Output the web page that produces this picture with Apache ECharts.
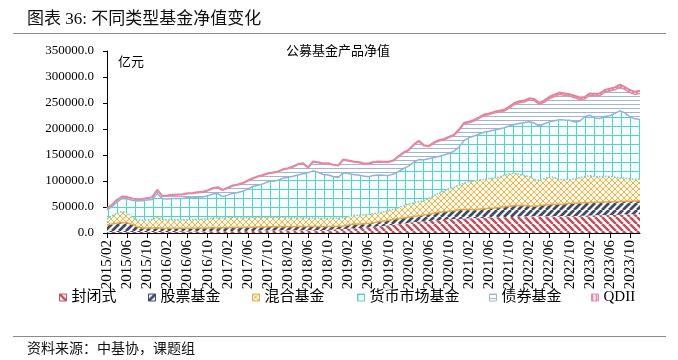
<!DOCTYPE html>
<html><head><meta charset="utf-8">
<script src="https://cdn.jsdelivr.net/npm/echarts@6/dist/echarts.min.js"></script>
<style>html,body{margin:0;padding:0;background:#fff}#c{width:678px;height:360px}</style>
</head><body><div id="c"></div>
<script>
const categories = [
 '2015/02','2015/03','2015/04','2015/05','2015/06','2015/07','2015/08','2015/09','2015/10','2015/11','2015/12',
 '2016/01','2016/02','2016/03','2016/04','2016/05','2016/06','2016/07','2016/08','2016/09','2016/10','2016/11','2016/12',
 '2017/01','2017/02','2017/03','2017/04','2017/05','2017/06','2017/07','2017/08','2017/09','2017/10','2017/11','2017/12',
 '2018/01','2018/02','2018/03','2018/04','2018/05','2018/06','2018/07','2018/08','2018/09','2018/10','2018/11','2018/12',
 '2019/01','2019/02','2019/03','2019/04','2019/05','2019/06','2019/07','2019/08','2019/09','2019/10','2019/11','2019/12',
 '2020/01','2020/02','2020/03','2020/04','2020/05','2020/06','2020/07','2020/08','2020/09','2020/10','2020/11','2020/12',
 '2021/01','2021/02','2021/03','2021/04','2021/05','2021/06','2021/07','2021/08','2021/09','2021/10','2021/11','2021/12',
 '2022/01','2022/02','2022/03','2022/04','2022/05','2022/06','2022/07','2022/08','2022/09','2022/10','2022/11','2022/12',
 '2023/01','2023/02','2023/03','2023/04','2023/05','2023/06','2023/07','2023/08','2023/09','2023/10','2023/11','2023/12'
];
const closedFund = [1800,1900,2000,2100,2100,2000,1900,1900,1800,1800,1800,1800,1900,
 2000,2100,2300,2400,2600,2800,3000,3100,3200,3300,3400,3500,3600,
 3700,3800,3900,4000,4100,4200,4300,4400,4500,4600,4700,4800,4900,
 5000,5200,5400,5600,5800,6000,6400,7000,7500,8000,8600,9300,10000,
 10800,11600,12400,13300,14300,15400,16500,18000,19500,20500,21500,22300,23000,
 23800,24500,25200,25800,26300,26800,27300,27700,28200,28600,29000,29400,29800,
 30200,30500,30800,31000,31200,31400,31500,31600,31700,31800,31900,32000,32100,
 32200,32400,32600,32800,33000,33300,33600,33900,34200,34500,34800,35100,35400,35700,36000,36300];
const stockFund = [13700,15600,17000,17900,17400,14500,10100,7600,7700,7700,8200,7200,7100,
 7000,6900,6700,6600,6400,6700,6500,6400,6800,6700,6600,7000,6900,
 6800,6700,7100,7000,7400,7300,7700,7600,7500,7900,7300,7200,7600,
 7500,7300,7100,6900,6700,6500,6100,6000,6000,7500,8900,7700,8000,
 7700,7900,9100,9700,10200,11100,11500,11000,11000,11000,11500,12200,13000,
 14200,15500,15800,16200,16700,17700,17700,17800,16300,16900,17500,18100,18200,
 18800,20000,20700,21500,21800,21600,20500,19900,21300,22200,22600,23500,23400,
 23800,24600,24400,24700,25000,25200,25400,25100,25300,25500,25200,25400,25600,25300,25500,25200];
const mixedFund = [11000,15500,19000,21000,19000,14500,13500,15000,15500,16500,20000,17500,16500,
 16500,16500,16500,17000,17000,17000,17000,17500,19000,19500,19000,19000,20500,
 19500,19000,18500,19000,19000,19000,19000,18500,18500,18000,17500,17500,17000,
 17000,16500,16500,16000,16000,15500,16000,15500,15500,16000,16000,17000,17000,
 17000,18000,17500,17500,18500,19500,21000,23500,25500,26500,27500,27500,30000,
 34000,37000,39500,43000,45000,47500,51000,53500,56000,56500,56500,57500,58000,
 58500,60500,62000,62500,60500,57500,56500,51500,48500,50500,53500,51000,47500,
 47000,45500,47000,49000,50500,51500,49500,49000,49500,48500,47500,45500,44500,43500,42000,41500];
const moneyFund = [18000,17500,22000,25300,27200,31950,36000,37500,38350,38200,46200,39150,40100,
 41000,41050,41050,42100,41500,42500,42850,44450,46100,46400,40900,43400,45350,
 47850,50900,54900,59400,61450,63950,67500,69000,71000,75000,77500,79500,82050,
 84550,87050,90550,88050,84050,83600,80100,78100,87050,83000,79000,77450,74450,
 72900,72900,72350,70350,67800,67300,69250,71750,72700,78200,80700,78650,76600,
 73050,70000,69450,67900,69300,73200,81600,84500,85900,88300,90700,90600,92000,
 92500,91400,92300,93700,97100,102000,105500,108400,103800,105700,106100,109500,115000,
 114400,114500,109500,108500,115000,116400,112800,112200,115000,117000,122500,129000,125500,118500,116000,115500];
const bondFund = [2700,3000,3050,3000,3000,2800,2900,2800,3000,4000,5950,5000,5500,
 6000,6500,7000,7500,8500,8500,9000,9500,10000,11000,12000,13000,14000,
 14500,14500,15500,15000,16000,16000,15500,16000,16000,16000,16500,18000,20000,
 19000,9000,17000,18500,20000,21500,22000,22500,24500,24000,24000,24000,23500,
 24000,25000,25000,25000,25000,25500,28500,29500,30000,32500,35000,27000,23500,
 27500,30000,29500,30500,30000,32000,32500,28500,29000,30000,32000,32000,32500,
 32500,32000,34500,38500,40000,39500,42000,43000,41500,41500,44500,46500,48500,
 47500,46300,46700,41600,34000,38000,42500,44000,46600,47500,45400,45800,44700,47100,47000,50000];
const qdiiFund = [700,700,750,800,800,750,700,700,750,800,850,850,900,
 900,950,950,1000,1000,1000,1050,1050,1100,1100,1100,1100,1150,
 1150,1100,1100,1100,1050,1050,1000,1000,1000,1000,1000,1000,950,
 950,950,950,950,950,900,900,900,950,1000,1000,1050,1050,
 1100,1100,1150,1150,1200,1200,1250,1250,1300,1300,1300,1350,1400,
 1450,1500,1550,1600,1700,1800,1900,2000,2100,2200,2300,2400,2500,
 2500,2600,2700,2800,2900,3000,3000,3100,3200,3300,3400,3500,3500,
 3600,3700,3800,3900,4000,4100,4200,4300,4400,4500,4600,4700,4800,4900,5000,5000];
const seriesNames = ['封闭式','股票基金','混合基金','货币市场基金','债券基金','QDII'];
const yTicks = [0,50000,100000,150000,200000,250000,300000,350000];

function makePattern(size, bg, draw) {
  const c = document.createElement('canvas');
  c.width = size; c.height = size;
  const ctx = c.getContext('2d');
  ctx.fillStyle = bg; ctx.fillRect(0, 0, size, size);
  draw(ctx, size);
  return { image: c, repeat: 'repeat' };
}
function diag(ctx, s, dir, color, w) {
  ctx.strokeStyle = color; ctx.lineWidth = w;
  ctx.beginPath();
  for (let k = -1; k <= 1; k++) {
    if (dir > 0) { ctx.moveTo(k * s, s); ctx.lineTo(k * s + s, 0); }
    else { ctx.moveTo(k * s, 0); ctx.lineTo(k * s + s, s); }
  }
  ctx.stroke();
}
const pClosed = makePattern(7, '#ffffff', (ctx, s) => diag(ctx, s, -1, '#C0505E', 2.6));
const pStock = makePattern(7, '#ffffff', (ctx, s) => diag(ctx, s, 1, '#3E4A66', 2.8));
const pMixed = makePattern(6, '#FFF9EA', (ctx, s) => { diag(ctx, s, 1, '#E6AC45', 0.9); diag(ctx, s, -1, '#E6AC45', 0.9); });
const pMoney = makePattern(9, '#F4FFFE', (ctx, s) => { ctx.fillStyle = '#5CCFC8'; ctx.fillRect(0, 0, s, 1); ctx.fillRect(0, 0, 1, s); });
const pBond = makePattern(4, '#ffffff', (ctx, s) => { ctx.fillStyle = '#9DB6D6'; ctx.fillRect(0, 0, s, 1); });
const pQdii = makePattern(4, '#ffffff', (ctx, s) => { ctx.fillStyle = '#E58DA5'; ctx.fillRect(0, 0, 2, s); });

const defs = [
  { data: closedFund, fill: pClosed, border: '#C0505E', line: { width: 0 } },
  { data: stockFund, fill: pStock, border: '#3E4A66', line: { width: 1.5, color: '#E6A845' } },
  { data: mixedFund, fill: pMixed, border: '#E6AC45', line: { width: 1.5, color: '#66D3CC', type: 'dotted' } },
  { data: moneyFund, fill: pMoney, border: '#5CCFC8', line: { width: 1.5, color: '#93B1D9' } },
  { data: bondFund, fill: pBond, border: '#9DB6D6', line: { width: 1.5, color: '#E48AA0' } },
  { data: qdiiFund, fill: pQdii, border: '#E58DA5', line: { width: 2, color: '#E3839B' } }
];
const legendLeft = [59, 148, 252, 357, 489, 591];
const FONT = "'Liberation Serif', 'Noto Sans CJK SC', serif";

const chart = echarts.init(document.getElementById('c'), null, { renderer: 'canvas' });
chart.setOption({
  animation: false,
  backgroundColor: '#ffffff',
  grid: { left: 107, right: 38, top: 51, bottom: 127, containLabel: false },
  xAxis: {
    type: 'category', data: categories, boundaryGap: false,
    axisLine: { lineStyle: { color: '#000', width: 1 } },
    axisTick: { interval: 3, length: 5, lineStyle: { color: '#000' } },
    axisLabel: { interval: 3, rotate: 90, margin: 7, fontSize: 15, color: '#000', fontFamily: FONT },
    splitLine: { show: false }
  },
  yAxis: {
    type: 'value', min: yTicks[0], max: yTicks[yTicks.length - 1], interval: 50000,
    axisLine: { show: true, lineStyle: { color: '#000', width: 1 } },
    axisTick: { show: true, length: 4, lineStyle: { color: '#000' } },
    axisLabel: { margin: 13, fontSize: 13, color: '#000', fontFamily: FONT, formatter: v => v.toFixed(1) },
    splitLine: { show: false }
  },
  legend: defs.map((d, i) => ({
    data: [{ name: seriesNames[i], icon: 'rect', itemStyle: { color: d.fill, borderColor: d.border, borderWidth: 1 } }],
    left: legendLeft[i], top: 290, padding: 0, itemWidth: 7, itemHeight: 7, selectedMode: false,
    textStyle: { fontSize: 15, color: '#000', fontFamily: FONT }
  })),
  series: defs.map((d, i) => ({
    name: seriesNames[i], type: 'line', stack: 'total', data: d.data,
    symbol: 'none', smooth: false, z: 10 - i,
    lineStyle: d.line,
    itemStyle: { color: d.border },
    areaStyle: { color: d.fill, opacity: 1 }
  })),
  graphic: [
    { type: 'text', left: 27, top: 11, style: { text: '图表 36: 不同类型基金净值变化', font: "17px 'Liberation Serif', 'Noto Sans CJK SC'", fill: '#111' } },
    { type: 'line', shape: { x1: 13, y1: 33.5, x2: 666, y2: 33.5 }, style: { stroke: '#8a8a8a', lineWidth: 1.2 } },
    { type: 'text', left: 286, top: 44, style: { text: '公募基金产品净值', font: "13px 'Noto Sans CJK SC'", fill: '#000' } },
    { type: 'text', left: 118, top: 55, style: { text: '亿元', font: "13px 'Noto Sans CJK SC'", fill: '#000' } },
    { type: 'line', shape: { x1: 13, y1: 336.5, x2: 666, y2: 336.5 }, style: { stroke: '#8a8a8a', lineWidth: 1.2 } },
    { type: 'text', left: 27, top: 341, style: { text: '资料来源：中基协，课题组', font: "14px 'Noto Sans CJK SC'", fill: '#111' } }
  ]
});
</script></body></html>
